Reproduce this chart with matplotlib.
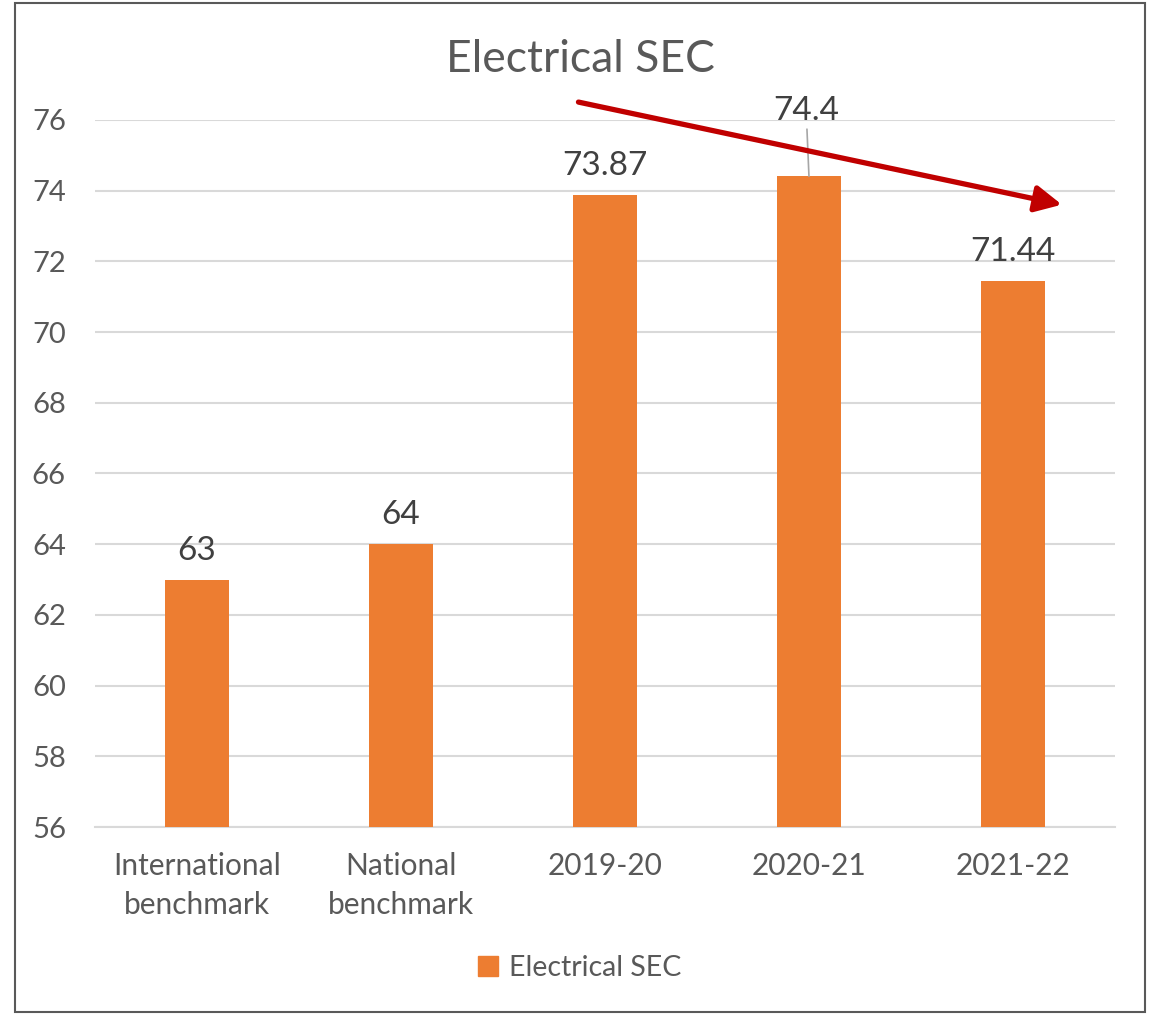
import matplotlib.pyplot as plt
from matplotlib.patches import Rectangle

categories = ["International\nbenchmark", "National\nbenchmark", "2019-20", "2020-21", "2021-22"]
values = [63, 64, 73.87, 74.4, 71.44]
labels = ["63", "64", "73.87", "74.4", "71.44"]
y_ticks = list(range(56, 77, 2))

plt.rcParams['font.family'] = ['Lato', 'DejaVu Sans']

fig = plt.figure(figsize=(11.53, 10.15), dpi=100)
ax = fig.add_axes([0.0824, 0.185, 0.8846, 0.697])

x = list(range(len(categories)))
ax.bar(x, values, width=0.314, color="#ED7D31", zorder=3)

ax.set_xlim(-0.5, len(categories) - 0.5)
ax.set_ylim(56, 76)
ax.set_yticks(y_ticks)
ax.set_xticks(x)
ax.set_xticklabels(categories, fontsize=21.5, color="#595959", linespacing=1.45)
ax.tick_params(axis='y', labelsize=21, colors="#595959", length=0, pad=21)
ax.tick_params(axis='x', length=0, pad=18)
ax.grid(axis='y', color="#D9D9D9", linewidth=1.5, zorder=0)
for s in ["top", "right", "left"]:
    ax.spines[s].set_visible(False)
ax.spines["bottom"].set_color("#D9D9D9")
ax.spines["bottom"].set_linewidth(1.5)

for i, (v, lab) in enumerate(zip(values, labels)):
    if i == 3:
        # label pushed up with a leader line, as in the source
        ax.annotate(lab, xy=(i, v), xytext=(-2, 36), textcoords="offset points",
                    ha="center", va="bottom", fontsize=24, color="#404040",
                    annotation_clip=False,
                    arrowprops=dict(arrowstyle="-", color="#A6A6A6", lw=1.2,
                                    shrinkA=0, shrinkB=0))
    else:
        ax.annotate(lab, xy=(i, v), xytext=(0, 10), textcoords="offset points",
                    ha="center", va="bottom", fontsize=24, color="#404040")

# trend arrow
ax.annotate("", xy=(4.24, 73.6), xytext=(1.87, 76.5), annotation_clip=False,
            arrowprops=dict(arrowstyle="-|>,head_length=1.6,head_width=0.8",
                            color="#C00000", lw=3.8, shrinkA=0, shrinkB=0))

fig.text(0.503, 0.941, "Electrical SEC", ha="center", va="center",
         fontsize=32, color="#595959")

handle = Rectangle((0, 0), 1, 1, color="#ED7D31")
fig.legend([handle], ["Electrical SEC"], loc="center", bbox_to_anchor=(0.503, 0.046),
           frameon=False, fontsize=20.5, labelcolor="#595959",
           handlelength=0.7, handleheight=0.7, handletextpad=0.4)

fig.patches.append(Rectangle((15 / 1153, 3 / 1015), 1130 / 1153, 1009 / 1015,
                             transform=fig.transFigure, fill=False,
                             edgecolor="#595959", linewidth=1.5))

fig.savefig("out.png", dpi=100)
